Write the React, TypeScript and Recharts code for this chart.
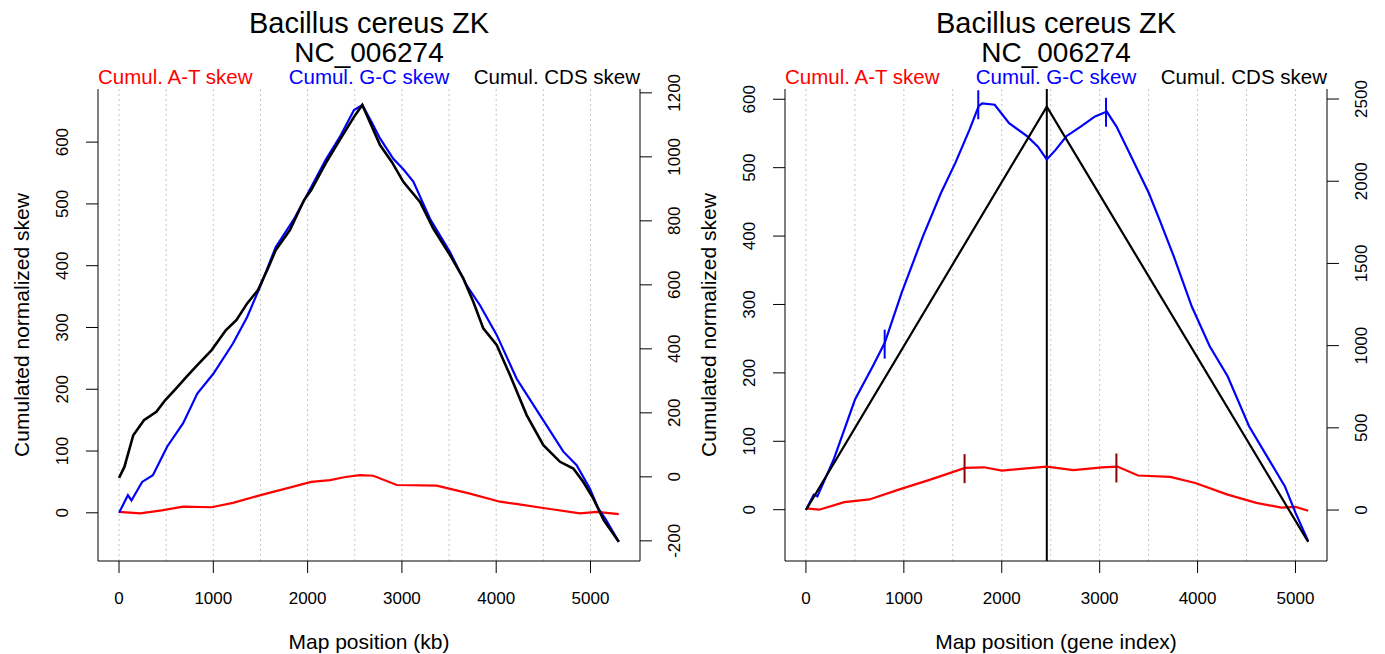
import { ComposedChart, Line, Scatter, XAxis, YAxis, ReferenceLine } from "recharts";

const FONT = '"Liberation Sans", Arial, Helvetica, sans-serif';

// ---- left panel: position in kb ----
const gcKb = [0, 94, 132, 245, 359, 510, 680, 830, 1000, 1208, 1359, 1510, 1661, 1850, 2020, 2190, 2340, 2492, 2580, 2680, 2768, 2909, 3015, 3121, 3298, 3510, 3687, 3828, 4005, 4217, 4464, 4712, 4853, 4994, 5083, 5160, 5300];
const gcSkewKb = [0, 28.6, 20, 50, 61, 107, 145, 193, 225, 274, 317, 371, 430, 474, 522, 571, 608, 652, 660, 632, 606, 573, 556, 536, 476, 422, 368, 336, 288, 217, 158, 99, 77, 39, 7, -10, -47];

const cdsKb = [0, 57, 151, 264, 396, 491, 604, 717, 830, 982, 1132, 1246, 1359, 1472, 1586, 1661, 1812, 1963, 2038, 2190, 2340, 2492, 2580, 2768, 2893, 3015, 3192, 3333, 3510, 3651, 3757, 3863, 4005, 4146, 4323, 4500, 4677, 4818, 4924, 5030, 5140, 5300];
const cdsSkewKb = [-3, 31, 130, 177, 203, 240, 276, 313, 349, 396, 458, 490, 542, 583, 656, 708, 771, 865, 896, 979, 1052, 1125, 1162, 1037, 984, 922, 859, 776, 693, 620, 547, 464, 412, 318, 193, 99, 47, 26, -16, -68, -135, -203];

const atKb = [0, 226, 453, 680, 982, 1208, 1510, 1737, 2038, 2238, 2400, 2556, 2697, 2945, 3369, 3722, 4040, 4228, 4535, 4889, 5066, 5300];
const atSkewKb = [1.6, -1, 4, 10, 9, 16, 29, 38, 50, 53, 58, 61, 60, 45, 44, 31, 18, 14, 7, -1, 1.6, -2];

// ---- right panel: position as gene index ----
const gcGene = [0, 80, 117, 282, 501, 684, 805, 977, 1196, 1379, 1526, 1672, 1764, 1800, 1928, 2075, 2258, 2367, 2460, 2550, 2660, 2806, 2953, 3073, 3172, 3319, 3502, 3611, 3758, 3941, 4124, 4307, 4526, 4709, 4892, 5002, 5130];
const gcSkewGene = [0, 22, 19.5, 73, 161, 210, 244, 317, 400, 463, 507, 556, 590, 594, 592, 565, 546, 531, 512, 526, 546, 560, 575, 582, 560, 517, 463, 424, 370, 297, 239, 195, 122, 78, 34, -5, -46];

const atGene = [0, 135, 392, 648, 940, 1270, 1625, 1819, 2001, 2221, 2460, 2733, 3026, 3180, 3392, 3721, 3977, 4307, 4600, 4856, 5002, 5130];
const atSkewGene = [2, 0, 11, 15, 29, 44, 61, 62, 57, 60, 63, 58, 62, 63, 50, 48, 39, 22, 10, 3, 4, -1.5];

const cdsGene = [0, 2460, 5130];
const cdsSkewGene = [0, 2453, -194];

const originGene = 2460;
const gcMarkGene = [804, 1760, 3065];
const gcMarkSkew = [242, 592, 581];
const atMarkGene = [1620, 3171];
const atMarkSkew = [60, 61];

// ticks
const xTicks = [0, 1000, 2000, 3000, 4000, 5000];
const gridX = [0, 500, 1000, 1500, 2000, 2500, 3000, 3500, 4000, 4500, 5000];
const skewTicks = [0, 100, 200, 300, 400, 500, 600];
const cdsTicksKb = [-200, 0, 200, 400, 600, 800, 1000, 1200];
const cdsTicksGene = [0, 500, 1000, 1500, 2000, 2500];

const toPoints = (xs: number[], ys: number[]) => xs.map((x, i) => ({ x, y: ys[i] }));

const YTick = ({ x, y, payload, shift }: any) => {
  const cx = x + shift;
  return (
    <text x={cx} y={y} transform={`rotate(-90, ${cx}, ${y})`} textAnchor="middle"
      dominantBaseline="central" fontSize={17} fill="#000" fontFamily={FONT}>
      {payload.value}
    </text>
  );
};

const XTick = ({ x, y, payload }: any) => (
  <text x={x} y={y + 31} textAnchor="middle" fontSize={17} fill="#000" fontFamily={FONT}>
    {payload.value}
  </text>
);

const Mark = ({ cx, cy, color }: any) => (
  <line x1={cx} x2={cx} y1={cy - 14.5} y2={cy + 14.5} stroke={color} strokeWidth={2} />
);

const W_AXIS_L = 98;
const PLOT_W = 542;
const PLOT_TOP = 89;
const PLOT_BOTTOM = 561;
const H = 654;

interface PanelProps {
  left: number;
  width: number;
  xLabel: string;
  xDomain: [number, number];
  yDomain: [number, number];
  y2Domain: [number, number];
  y2Ticks: number[];
  children: any;
}

const Panel = ({ left, width, xLabel, xDomain, yDomain, y2Domain, y2Ticks, children }: PanelProps) => {
  const mid = W_AXIS_L + PLOT_W / 2;
  const txt = { fontFamily: FONT, fill: "#000" };
  return (
    <div style={{ position: "absolute", left, top: 0, width, height: H }}>
      <ComposedChart width={width} height={H} margin={{ top: PLOT_TOP, right: 0, bottom: 0, left: 0 }}>
        <XAxis dataKey="x" type="number" domain={xDomain} allowDataOverflow ticks={xTicks} interval={0}
          height={H - PLOT_BOTTOM} tickSize={12} tickMargin={0} stroke="#000" tick={<XTick />} />
        <XAxis xAxisId="top" orientation="top" type="number" domain={xDomain} allowDataOverflow
          height={0} tick={false} tickLine={false} stroke="#000" />
        <YAxis yAxisId="left" type="number" domain={yDomain} allowDataOverflow ticks={skewTicks} interval={0}
          width={W_AXIS_L} tickSize={12} tickMargin={0} stroke="#000" tick={<YTick shift={-23.5} />} />
        <YAxis yAxisId="right" orientation="right" type="number" domain={y2Domain} allowDataOverflow ticks={y2Ticks}
          interval={0} width={width - W_AXIS_L - PLOT_W} tickSize={12} tickMargin={0} stroke="#000"
          tick={<YTick shift={23} />} />
        {gridX.map((g) => (
          <ReferenceLine key={g} x={g} yAxisId="left" stroke="#c4c4c4" strokeWidth={1} strokeDasharray="2 3" />
        ))}
        {children}
      </ComposedChart>
      <svg width={width} height={H} style={{ position: "absolute", left: 0, top: 0, pointerEvents: "none" }}>
        <text x={mid} y={33} textAnchor="middle" fontSize={29} {...txt}>Bacillus cereus ZK</text>
        <text x={mid} y={62} textAnchor="middle" fontSize={28} {...txt}>NC_006274</text>
        <text x={W_AXIS_L} y={84} textAnchor="start" fontSize={20.5} fontFamily={FONT} fill="#FF0000">Cumul. A-T skew</text>
        <text x={mid} y={84} textAnchor="middle" fontSize={20.5} fontFamily={FONT} fill="#0000FF">Cumul. G-C skew</text>
        <text x={W_AXIS_L + PLOT_W} y={84} textAnchor="end" fontSize={20.5} {...txt}>Cumul. CDS skew</text>
        <text x={mid} y={649} textAnchor="middle" fontSize={21} {...txt}>{xLabel}</text>
        <text x={29} y={(PLOT_TOP + PLOT_BOTTOM) / 2} transform={`rotate(-90, 29, ${(PLOT_TOP + PLOT_BOTTOM) / 2})`}
          textAnchor="middle" fontSize={21} {...txt}>Cumulated normalized skew</text>
      </svg>
    </div>
  );
};

export default function App() {
  return (
    <div style={{ position: "absolute", left: 0, top: 0, width: 1385, height: H, background: "#fff" }}>
      <Panel left={0} width={692} xLabel="Map position (kb)" xDomain={[-223, 5525]}
        yDomain={[-78, 686]} y2Domain={[-263, 1212]} y2Ticks={cdsTicksKb}>
        <Line data={toPoints(atKb, atSkewKb)} dataKey="y" yAxisId="left" stroke="#FF0000" strokeWidth={2.2}
          dot={false} isAnimationActive={false} />
        <Line data={toPoints(gcKb, gcSkewKb)} dataKey="y" yAxisId="left" stroke="#0000FF" strokeWidth={2.2}
          dot={false} isAnimationActive={false} />
        <Line data={toPoints(cdsKb, cdsSkewKb)} dataKey="y" yAxisId="right" stroke="#000" strokeWidth={2.6}
          dot={false} isAnimationActive={false} />
      </Panel>
      <Panel left={687} width={698} xLabel="Map position (gene index)" xDomain={[-214, 5322]}
        yDomain={[-75, 615]} y2Domain={[-310, 2561]} y2Ticks={cdsTicksGene}>
        <ReferenceLine x={originGene} yAxisId="left" stroke="#000" strokeWidth={2} />
        <Line data={toPoints(atGene, atSkewGene)} dataKey="y" yAxisId="left" stroke="#FF0000" strokeWidth={2.2}
          dot={false} isAnimationActive={false} />
        <Line data={toPoints(gcGene, gcSkewGene)} dataKey="y" yAxisId="left" stroke="#0000FF" strokeWidth={2.2}
          dot={false} isAnimationActive={false} />
        <Line data={toPoints(cdsGene, cdsSkewGene)} dataKey="y" yAxisId="right" stroke="#000" strokeWidth={2.2}
          dot={false} isAnimationActive={false} />
        <Scatter data={toPoints(gcMarkGene, gcMarkSkew)} dataKey="y" yAxisId="left" isAnimationActive={false}
          shape={(p: any) => <Mark {...p} color="#0000FF" />} />
        <Scatter data={toPoints(atMarkGene, atMarkSkew)} dataKey="y" yAxisId="left" isAnimationActive={false}
          shape={(p: any) => <Mark {...p} color="#8B0000" />} />
      </Panel>
    </div>
  );
}
